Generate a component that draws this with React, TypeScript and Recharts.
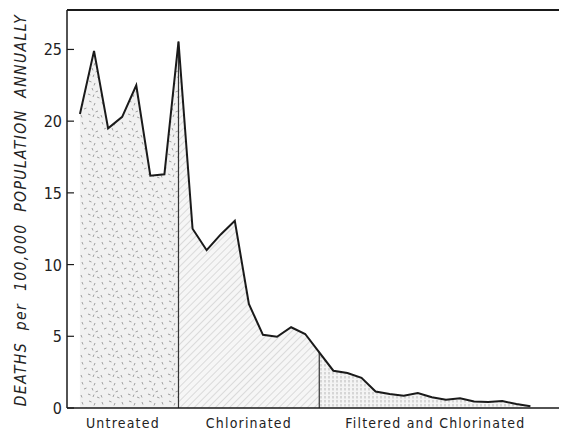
import React from 'react';
import {
  ComposedChart,
  Area,
  Line,
  XAxis,
  YAxis,
  ReferenceLine,
} from 'recharts';

// deaths per 100,000 population, one point per year
const deaths = [
  20.5, 24.9, 19.5, 20.3, 22.5, 16.2, 16.3, 25.55,
  12.5, 11.0, 12.1, 13.05, 7.25, 5.1, 4.97, 5.63, 5.16, 3.88,
  2.6, 2.44, 2.1, 1.15, 0.97, 0.85, 1.05, 0.75, 0.58, 0.68, 0.45, 0.42, 0.48, 0.28, 0.12,
];
// index where each treatment period starts / ends
const periodBreaks = [0, 7, 17, 32];
const periodNames = ['Untreated', 'Chlorinated', 'Filtered and Chlorinated'];
const periodLabelPos = [3.05, 12.0, 25.25];
const yTicks = [0, 5, 10, 15, 20, 25];

const data = deaths.map((v, i) => ({
  i,
  v,
  u: i >= periodBreaks[0] && i <= periodBreaks[1] ? v : null,
  c: i >= periodBreaks[1] && i <= periodBreaks[2] ? v : null,
  f: i >= periodBreaks[2] && i <= periodBreaks[3] ? v : null,
}));

const FONT = '"DejaVu Sans Condensed", "Liberation Sans Narrow", "DejaVu Sans", sans-serif';
const INK = '#1a1a1a';

const LeftTick = ({ x, y, payload }: any) => (
  <g>
    <line x1={x + 4} x2={x + 11} y1={y} y2={y} stroke={INK} strokeWidth={1.2} />
    <text x={x - 1} y={y} dy={6} textAnchor="end" fontSize={16} fontFamily={FONT} fill="#222">
      {payload.value}
    </text>
  </g>
);

const RightTick = ({ x, y, payload }: any) =>
  payload.value === 0 ? <g /> : (
    <line x1={x - 6} x2={x} y1={y} y2={y} stroke={INK} strokeWidth={1.2} />
  );

const BottomTick = ({ x, y, index }: any) => (
  <text x={x} y={y + 18} textAnchor="middle" fontSize={14} letterSpacing={1.2} fontFamily={FONT} fill="#222">
    {periodNames[index]}
  </text>
);

export default function App() {
  const top = 27.75;
  return (
    <div style={{ position: 'absolute', left: 0, top: 0, width: 568, height: 432, background: '#fff' }}>
      <ComposedChart
        width={568}
        height={432}
        data={data}
        margin={{ top: 10, right: 9, bottom: 0, left: 0 }}
      >
        <defs>
          <pattern id="stipple" width="20" height="20" patternUnits="userSpaceOnUse">
            <rect width="20" height="20" fill="#f1f1f1" />
            <path
              d="M2 2l1 2.5 M9 1l2.5 1 M15 3l-1 2.5 M4 9l2.5 -1 M12 8l1 2.5 M18 11l-2.5 1 M1 15l1 2.5 M8 14l2.5 1 M13 17l1 -2.5 M17 17l2.5 1"
              stroke="#8a8a8a"
              strokeWidth="0.8"
            />
          </pattern>
          <pattern id="hatch" width="5" height="5" patternUnits="userSpaceOnUse" patternTransform="rotate(45)">
            <rect width="5" height="5" fill="#f6f6f6" />
            <line x1="0" y1="0" x2="0" y2="5" stroke="#c8c8c8" strokeWidth="1.2" />
          </pattern>
          <pattern id="vdots" width="4" height="4" patternUnits="userSpaceOnUse">
            <rect width="4" height="4" fill="#f4f4f4" />
            <line x1="1" y1="0" x2="1" y2="2.5" stroke="#aaa" strokeWidth="0.8" />
          </pattern>
        </defs>
        <XAxis
          type="number"
          dataKey="i"
          domain={[-0.92, 34.03]}
          ticks={periodLabelPos}
          interval={0}
          tick={<BottomTick />}
          tickLine={false}
          tickSize={0}
          height={24}
          axisLine={{ stroke: INK, strokeWidth: 1.5 }}
          allowDataOverflow
        />
        <YAxis
          yAxisId="l"
          domain={[0, top]}
          ticks={yTicks}
          width={67}
          tickSize={0}
          tickMargin={4}
          tickLine={false}
          tick={<LeftTick />}
          axisLine={{ stroke: INK, strokeWidth: 1.5 }}
          allowDataOverflow
          label={{
            content: () => (
              <text
                x={21}
                y={210}
                transform="rotate(-90 21 210)"
                textAnchor="middle"
                dominantBaseline="central"
                fontSize={15.5}
                fontStyle="italic"
                letterSpacing={1.4}
                wordSpacing={6}
                fontFamily={FONT}
                fill="#222"
              >
                DEATHS per 100,000 POPULATION ANNUALLY
              </text>
            ),
          }}
        />
        <YAxis
          yAxisId="r"
          orientation="right"
          domain={[0, top]}
          ticks={yTicks}
          width={0}
          tickSize={0}
          tickLine={false}
          tick={<RightTick />}
          axisLine={{ stroke: INK, strokeWidth: 1.5 }}
          allowDataOverflow
        />
        <ReferenceLine yAxisId="l" y={top} stroke={INK} strokeWidth={2} />
        <Area yAxisId="l" type="linear" dataKey="u" stroke="none" fill="url(#stipple)" fillOpacity={1} isAnimationActive={false} />
        <Area yAxisId="l" type="linear" dataKey="c" stroke="none" fill="url(#hatch)" fillOpacity={1} isAnimationActive={false} />
        <Area yAxisId="l" type="linear" dataKey="f" stroke="none" fill="url(#vdots)" fillOpacity={1} isAnimationActive={false} />
        <ReferenceLine
          yAxisId="l"
          segment={[{ x: periodBreaks[1], y: 0 }, { x: periodBreaks[1], y: deaths[periodBreaks[1]] }]}
          stroke="#333"
          strokeWidth={1.2}
        />
        <ReferenceLine
          yAxisId="l"
          segment={[{ x: periodBreaks[2], y: 0 }, { x: periodBreaks[2], y: deaths[periodBreaks[2]] }]}
          stroke="#333"
          strokeWidth={1.2}
        />
        <Line yAxisId="l" type="linear" dataKey="v" stroke={INK} strokeWidth={2} dot={false} isAnimationActive={false} />
      </ComposedChart>
    </div>
  );
}
